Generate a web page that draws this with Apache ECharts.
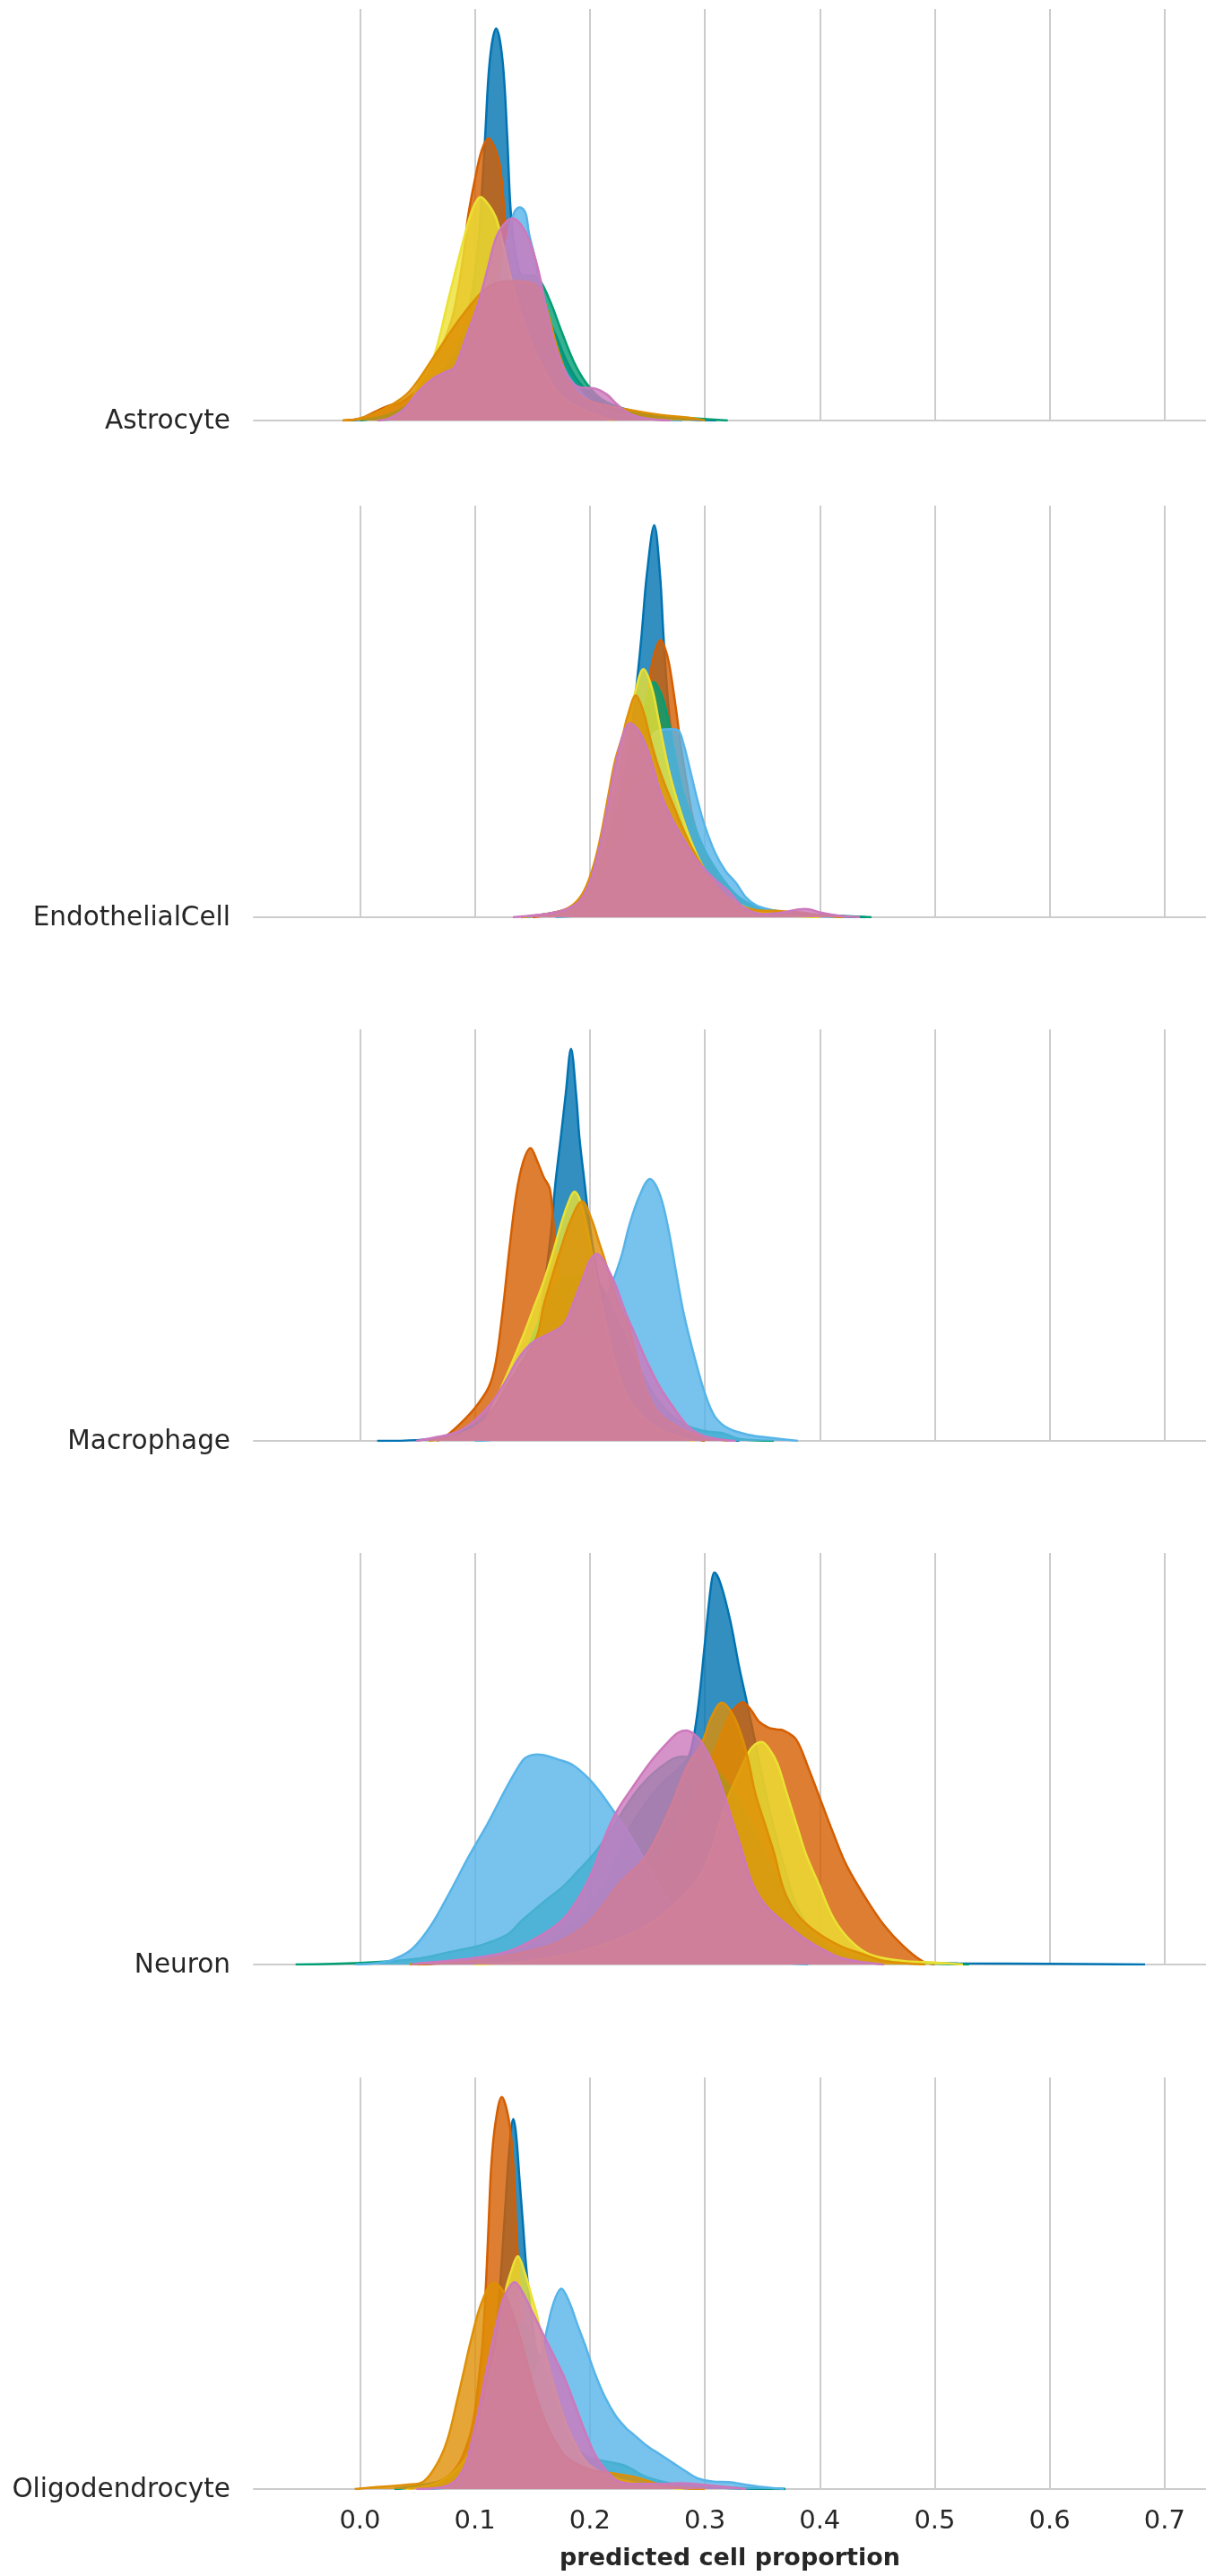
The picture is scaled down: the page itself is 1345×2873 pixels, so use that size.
<!DOCTYPE html>
<html>
<head>
<meta charset="utf-8">
<script src="https://cdn.jsdelivr.net/npm/echarts@6/dist/echarts.min.js"></script>
<style>
html,body{margin:0;padding:0;background:#fff;}
#chart{width:1345px;height:2873px;}
</style>
</head>
<body>
<div id="chart"></div>
<script>
// ---------- DATA ----------
const cellTypes = ["Astrocyte", "EndothelialCell", "Macrophage", "Neuron", "Oligodendrocyte"];
const tickValues = [0.0, 0.1, 0.2, 0.3, 0.4, 0.5, 0.6, 0.7];
// drawing order (bottom -> top)
const seriesKeys = ["blue", "vermillion", "green", "skyblue", "yellow", "gold", "pink"];
const seriesColors = ["#0173B2", "#D55E00", "#029E73", "#56B4E9", "#ECE133", "#DE8F05", "#CC78BC"];
const xLabel = "predicted cell proportion";

// kernel density estimates ([proportion, relative density])
const astrocyteBlue = [[-0.01,0],[0.0,0.002],[0.03,0.012],[0.05,0.04],[0.07,0.1],[0.085,0.19],[0.095,0.29],[0.102,0.42],[0.106,0.58],[0.109,0.73],[0.113,0.92],[0.1185,1.0],[0.124,0.92],[0.128,0.73],[0.131,0.54],[0.135,0.43],[0.14,0.37],[0.15,0.33],[0.16,0.28],[0.17,0.22],[0.18,0.15],[0.19,0.1],[0.2,0.07],[0.22,0.03],[0.25,0.012],[0.28,0.004],[0.31,0]];
const astrocyteVermillion = [[-0.015,0],[0.0,0.005],[0.015,0.025],[0.025,0.038],[0.035,0.045],[0.05,0.08],[0.065,0.15],[0.08,0.26],[0.09,0.42],[0.094,0.52],[0.1,0.615],[0.106,0.69],[0.112,0.72],[0.118,0.69],[0.122,0.645],[0.126,0.52],[0.13,0.4],[0.135,0.3],[0.14,0.25],[0.15,0.21],[0.16,0.18],[0.17,0.15],[0.18,0.11],[0.19,0.08],[0.2,0.05],[0.22,0.025],[0.25,0.01],[0.28,0]];
const astrocyteGreen = [[0.0,0],[0.03,0.02],[0.06,0.08],[0.08,0.16],[0.1,0.27],[0.12,0.34],[0.14,0.37],[0.15,0.37],[0.157,0.355],[0.166,0.3],[0.175,0.23],[0.186,0.15],[0.197,0.095],[0.21,0.055],[0.23,0.03],[0.26,0.012],[0.29,0.006],[0.32,0]];
const astrocyteYellow = [[0.02,0],[0.04,0.03],[0.052,0.1],[0.064,0.16],[0.077,0.31],[0.09,0.46],[0.098,0.54],[0.105,0.57],[0.112,0.55],[0.118,0.52],[0.122,0.48],[0.13,0.38],[0.14,0.27],[0.15,0.19],[0.16,0.13],[0.17,0.08],[0.18,0.05],[0.2,0.02],[0.22,0]];
const astrocyteGold = [[-0.015,0],[0.0,0.005],[0.025,0.036],[0.043,0.074],[0.066,0.17],[0.087,0.26],[0.107,0.33],[0.12,0.352],[0.135,0.356],[0.15,0.35],[0.157,0.33],[0.163,0.28],[0.1706,0.196],[0.178,0.13],[0.186,0.08],[0.2,0.05],[0.233,0.028],[0.26,0.015],[0.29,0.006],[0.3,0]];
const astrocyteSkyblue = [[0.02,0],[0.05,0.02],[0.07,0.05],[0.09,0.1],[0.1,0.15],[0.11,0.22],[0.12,0.33],[0.128,0.46],[0.134,0.53],[0.139,0.544],[0.144,0.53],[0.147,0.478],[0.152,0.417],[0.156,0.356],[0.162,0.28],[0.17,0.19],[0.18,0.12],[0.19,0.08],[0.2,0.05],[0.22,0.02],[0.25,0.005],[0.28,0]];
const astrocytePink = [[0.015,0],[0.025,0.005],[0.038,0.028],[0.051,0.074],[0.064,0.108],[0.074,0.123],[0.082,0.135],[0.092,0.21],[0.103,0.3],[0.111,0.386],[0.118,0.463],[0.125,0.5],[0.133,0.516],[0.14,0.5],[0.147,0.463],[0.155,0.386],[0.163,0.272],[0.171,0.18],[0.181,0.112],[0.191,0.085],[0.204,0.082],[0.215,0.066],[0.223,0.043],[0.233,0.02],[0.249,0.005],[0.27,0]];

const endothelialBlue = [[0.14,0],[0.18,0.02],[0.2,0.06],[0.21,0.12],[0.22,0.22],[0.23,0.35],[0.236,0.47],[0.242,0.63],[0.245,0.72],[0.2496,0.875],[0.256,1.0],[0.261,0.875],[0.264,0.72],[0.268,0.55],[0.273,0.42],[0.28,0.33],[0.29,0.24],[0.3,0.17],[0.31,0.12],[0.32,0.08],[0.33,0.05],[0.35,0.02],[0.4,0.005],[0.44,0]];
const endothelialVermillion = [[0.15,0],[0.18,0.02],[0.2,0.07],[0.21,0.14],[0.22,0.24],[0.235,0.38],[0.245,0.5],[0.251,0.58],[0.254,0.646],[0.258,0.69],[0.2615,0.707],[0.265,0.69],[0.269,0.646],[0.275,0.53],[0.279,0.44],[0.285,0.33],[0.29,0.25],[0.3,0.16],[0.31,0.11],[0.32,0.07],[0.34,0.03],[0.37,0.01],[0.4,0]];
const endothelialGreen = [[0.14,0],[0.19,0.03],[0.21,0.1],[0.225,0.2],[0.235,0.32],[0.243,0.45],[0.25,0.56],[0.2555,0.6],[0.262,0.57],[0.267,0.52],[0.271,0.46],[0.28,0.33],[0.29,0.24],[0.3,0.17],[0.31,0.12],[0.32,0.08],[0.33,0.05],[0.342,0.03],[0.36,0.017],[0.38,0.01],[0.41,0.005],[0.445,0]];
const endothelialYellow = [[0.14,0],[0.17,0.012],[0.185,0.03],[0.2,0.09],[0.21,0.18],[0.22,0.3],[0.228,0.4],[0.2346,0.51],[0.239,0.57],[0.2466,0.633],[0.254,0.585],[0.26,0.5],[0.263,0.455],[0.27,0.36],[0.28,0.26],[0.29,0.18],[0.3,0.12],[0.31,0.08],[0.32,0.05],[0.34,0.02],[0.37,0.005],[0.4,0]];
const endothelialGold = [[0.14,0],[0.165,0.01],[0.18,0.022],[0.19,0.045],[0.197,0.08],[0.204,0.14],[0.21,0.215],[0.216,0.31],[0.222,0.4],[0.2286,0.465],[0.2331,0.516],[0.24,0.566],[0.2466,0.524],[0.2526,0.455],[0.2585,0.394],[0.266,0.333],[0.2735,0.279],[0.281,0.2255],[0.29,0.17],[0.3,0.12],[0.31,0.08],[0.32,0.05],[0.33,0.03],[0.345,0.018],[0.365,0.016],[0.385,0.012],[0.4,0.005],[0.42,0]];
const endothelialSkyblue = [[0.17,0],[0.2,0.01],[0.22,0.04],[0.23,0.09],[0.24,0.2],[0.248,0.36],[0.254,0.46],[0.262,0.478],[0.27,0.48],[0.2765,0.478],[0.281,0.447],[0.287,0.378],[0.294,0.294],[0.3,0.233],[0.309,0.164],[0.318,0.118],[0.327,0.088],[0.336,0.05],[0.345,0.03],[0.357,0.019],[0.37,0.01],[0.39,0.004],[0.42,0]];
const endothelialPink = [[0.133,0],[0.148,0.004],[0.165,0.01],[0.178,0.019],[0.19,0.038],[0.1987,0.08],[0.2047,0.134],[0.2107,0.21],[0.2167,0.302],[0.2227,0.394],[0.2286,0.463],[0.2346,0.495],[0.242,0.478],[0.2496,0.432],[0.2555,0.378],[0.2615,0.317],[0.2705,0.256],[0.2824,0.195],[0.294,0.141],[0.309,0.0956],[0.321,0.065],[0.333,0.027],[0.351,0.008],[0.366,0.0115],[0.387,0.021],[0.402,0.0115],[0.417,0.004],[0.435,0]];

const macrophageBlue = [[0.015,0],[0.05,0.002],[0.08,0.01],[0.1,0.03],[0.12,0.08],[0.14,0.18],[0.155,0.3],[0.165,0.5],[0.17,0.656],[0.1746,0.771],[0.179,0.885],[0.1836,1.0],[0.188,0.885],[0.191,0.771],[0.1955,0.656],[0.1985,0.58],[0.205,0.45],[0.215,0.3],[0.23,0.17],[0.25,0.08],[0.27,0.04],[0.3,0.01],[0.33,0]];
const macrophageVermillion = [[0.067,0],[0.076,0.015],[0.088,0.046],[0.1,0.084],[0.112,0.137],[0.118,0.198],[0.124,0.328],[0.13,0.489],[0.1358,0.626],[0.1418,0.71],[0.1484,0.747],[0.154,0.715],[0.16,0.672],[0.165,0.645],[0.168,0.57],[0.171,0.45],[0.176,0.36],[0.185,0.28],[0.195,0.21],[0.21,0.14],[0.23,0.08],[0.25,0.04],[0.27,0.02],[0.3,0]];
const macrophageGreen = [[0.06,0],[0.1,0.04],[0.12,0.1],[0.14,0.2],[0.16,0.33],[0.18,0.42],[0.2,0.42],[0.22,0.33],[0.24,0.2],[0.26,0.1],[0.28,0.045],[0.3,0.025],[0.315,0.02],[0.33,0.005],[0.36,0]];
const macrophageYellow = [[0.06,0],[0.09,0.02],[0.11,0.06],[0.125,0.15],[0.1418,0.267],[0.1507,0.336],[0.1597,0.405],[0.1687,0.489],[0.1746,0.55],[0.1806,0.603],[0.1866,0.636],[0.192,0.61],[0.197,0.55],[0.203,0.46],[0.21,0.35],[0.22,0.22],[0.23,0.13],[0.24,0.08],[0.26,0.03],[0.29,0]];
const macrophageGold = [[0.06,0],[0.09,0.02],[0.11,0.06],[0.13,0.15],[0.145,0.22],[0.154,0.267],[0.1597,0.344],[0.1657,0.405],[0.1746,0.489],[0.1836,0.565],[0.1931,0.611],[0.2015,0.565],[0.2075,0.511],[0.2134,0.458],[0.2164,0.427],[0.225,0.35],[0.234,0.29],[0.242,0.2],[0.249,0.13],[0.26,0.07],[0.28,0.03],[0.3,0.01],[0.32,0]];
const macrophageSkyblue = [[0.1,0],[0.12,0.005],[0.15,0.03],[0.16,0.05],[0.18,0.12],[0.19,0.18],[0.2,0.25],[0.21,0.33],[0.2224,0.427],[0.2284,0.481],[0.2343,0.55],[0.2433,0.626],[0.2522,0.668],[0.2612,0.626],[0.2687,0.534],[0.2761,0.412],[0.282,0.32],[0.291,0.214],[0.3,0.122],[0.309,0.061],[0.321,0.031],[0.339,0.015],[0.357,0.008],[0.381,0]];
const macrophagePink = [[0.049,0],[0.064,0.008],[0.085,0.023],[0.1,0.053],[0.115,0.099],[0.1269,0.153],[0.1388,0.214],[0.1507,0.252],[0.1657,0.275],[0.1776,0.298],[0.1866,0.359],[0.1955,0.427],[0.2,0.46],[0.206,0.477],[0.211,0.465],[0.215,0.443],[0.2224,0.397],[0.231,0.328],[0.24,0.267],[0.249,0.206],[0.261,0.137],[0.273,0.084],[0.285,0.038],[0.297,0.015],[0.312,0.004],[0.327,0]];

const neuronBlue = [[0.05,0],[0.1,0.01],[0.15,0.03],[0.2,0.15],[0.215,0.22],[0.226,0.29],[0.237,0.36],[0.259,0.45],[0.2837,0.52],[0.289,0.56],[0.2946,0.666],[0.3,0.818],[0.3056,0.971],[0.3083,1.0],[0.3138,0.971],[0.322,0.879],[0.33,0.757],[0.3357,0.681],[0.3412,0.605],[0.35,0.48],[0.36,0.35],[0.37,0.24],[0.38,0.15],[0.4,0.06],[0.43,0.02],[0.47,0.008],[0.52,0.003],[0.6,0.002],[0.683,0]];
const neuronVermillion = [[0.05,0],[0.1,0.01],[0.15,0.04],[0.2,0.09],[0.24,0.18],[0.27,0.3],[0.29,0.42],[0.305,0.52],[0.319,0.62],[0.3248,0.65],[0.333,0.669],[0.34,0.65],[0.347,0.62],[0.355,0.605],[0.362,0.6],[0.3686,0.597],[0.3795,0.574],[0.3905,0.498],[0.4014,0.414],[0.4124,0.33],[0.4233,0.253],[0.44,0.169],[0.456,0.1],[0.4726,0.047],[0.489,0.009],[0.5,0]];
const neuronGreen = [[-0.056,0],[0.0,0.004],[0.05,0.015],[0.075,0.03],[0.1,0.045],[0.111,0.055],[0.12,0.065],[0.13,0.08],[0.14,0.11],[0.16,0.16],[0.177,0.2],[0.19,0.24],[0.204,0.284],[0.22,0.35],[0.24,0.44],[0.26,0.5],[0.28,0.53],[0.3,0.52],[0.32,0.46],[0.34,0.36],[0.36,0.24],[0.38,0.13],[0.4,0.06],[0.42,0.03],[0.45,0.012],[0.49,0.004],[0.53,0]];
const neuronYellow = [[0.1,0],[0.15,0.01],[0.2,0.04],[0.25,0.1],[0.28,0.17],[0.3,0.25],[0.3193,0.42],[0.3275,0.475],[0.3384,0.543],[0.344,0.562],[0.3494,0.568],[0.356,0.55],[0.3631,0.513],[0.3713,0.437],[0.3795,0.36],[0.3877,0.284],[0.3987,0.208],[0.4124,0.116],[0.4288,0.055],[0.445,0.024],[0.4726,0.009],[0.5,0.005],[0.5246,0]];
const neuronGold = [[0.043,0],[0.1,0.01],[0.144,0.032],[0.171,0.055],[0.199,0.108],[0.226,0.208],[0.2487,0.276],[0.27,0.4],[0.2837,0.5],[0.2974,0.565],[0.3056,0.63],[0.3149,0.668],[0.3248,0.635],[0.333,0.574],[0.3384,0.513],[0.3439,0.437],[0.3521,0.36],[0.3603,0.284],[0.3686,0.192],[0.3795,0.131],[0.396,0.085],[0.4179,0.047],[0.44,0.024],[0.456,0.009],[0.4918,0]];
const neuronSkyblue = [[-0.004,0],[0.0126,0.003],[0.029,0.013],[0.0455,0.04],[0.0619,0.1],[0.0783,0.185],[0.0947,0.276],[0.1112,0.36],[0.1276,0.452],[0.1413,0.52],[0.147,0.532],[0.1539,0.536],[0.16,0.534],[0.1714,0.524],[0.1851,0.509],[0.1988,0.475],[0.2097,0.437],[0.2207,0.391],[0.2316,0.345],[0.2426,0.292],[0.259,0.208],[0.2755,0.131],[0.2974,0.055],[0.319,0.024],[0.3467,0.009],[0.39,0]];
const neuronPink = [[0.0455,0],[0.051,0.003],[0.0893,0.013],[0.1276,0.032],[0.155,0.07],[0.1769,0.116],[0.1933,0.185],[0.2043,0.253],[0.2125,0.322],[0.2234,0.391],[0.2371,0.452],[0.2536,0.52],[0.27,0.574],[0.277,0.592],[0.2837,0.597],[0.291,0.587],[0.2974,0.566],[0.3083,0.505],[0.3165,0.437],[0.3248,0.36],[0.333,0.284],[0.3412,0.208],[0.3521,0.154],[0.3686,0.108],[0.385,0.07],[0.4014,0.04],[0.4179,0.017],[0.44,0.005],[0.456,0]];

const oligoBlue = [[0.03,0],[0.07,0.02],[0.09,0.05],[0.1,0.09],[0.11,0.2],[0.12,0.45],[0.126,0.7],[0.13,0.87],[0.1334,0.944],[0.1358,0.905],[0.1388,0.79],[0.1418,0.676],[0.1448,0.561],[0.15,0.42],[0.155,0.32],[0.16,0.25],[0.17,0.17],[0.18,0.12],[0.2,0.07],[0.22,0.04],[0.25,0.02],[0.3,0.005],[0.37,0]];
const oligoVermillion = [[0.04,0],[0.07,0.02],[0.085,0.06],[0.095,0.13],[0.1,0.2],[0.104,0.3],[0.1066,0.37],[0.1096,0.523],[0.1119,0.676],[0.1143,0.828],[0.1179,0.935],[0.1233,1.0],[0.1299,0.935],[0.1334,0.828],[0.1358,0.676],[0.1388,0.523],[0.142,0.38],[0.147,0.27],[0.155,0.2],[0.165,0.14],[0.18,0.08],[0.2,0.04],[0.22,0.02],[0.25,0.008],[0.3,0]];
const oligoGreen = [[0.03,0],[0.07,0.02],[0.09,0.07],[0.1,0.13],[0.11,0.22],[0.12,0.32],[0.13,0.4],[0.14,0.42],[0.15,0.38],[0.16,0.3],[0.17,0.22],[0.18,0.15],[0.19,0.1],[0.2,0.08],[0.215,0.07],[0.23,0.06],[0.25,0.03],[0.28,0.01],[0.32,0.004],[0.37,0]];
const oligoYellow = [[0.04,0],[0.07,0.02],[0.09,0.07],[0.1,0.13],[0.11,0.24],[0.12,0.38],[0.1269,0.508],[0.1313,0.553],[0.1373,0.594],[0.1433,0.553],[0.1493,0.492],[0.1537,0.447],[0.16,0.36],[0.17,0.25],[0.18,0.16],[0.19,0.1],[0.2,0.06],[0.22,0.03],[0.25,0.01],[0.28,0]];
const oligoGold = [[-0.0045,0],[0.0104,0.004],[0.0403,0.011],[0.0552,0.019],[0.0672,0.065],[0.0761,0.126],[0.0851,0.233],[0.091,0.309],[0.097,0.385],[0.106,0.477],[0.1164,0.527],[0.1239,0.508],[0.1299,0.47],[0.14,0.38],[0.15,0.27],[0.16,0.18],[0.17,0.12],[0.18,0.08],[0.2,0.05],[0.22,0.04],[0.24,0.03],[0.26,0.012],[0.28,0.004],[0.3,0]];
const oligoSkyblue = [[0.06,0],[0.09,0.01],[0.11,0.04],[0.13,0.12],[0.145,0.24],[0.1582,0.347],[0.1627,0.408],[0.1687,0.477],[0.1752,0.511],[0.1821,0.477],[0.1896,0.416],[0.1955,0.37],[0.2045,0.294],[0.2134,0.233],[0.2224,0.187],[0.2313,0.156],[0.2373,0.141],[0.2493,0.111],[0.2612,0.088],[0.2731,0.065],[0.285,0.042],[0.294,0.027],[0.3075,0.019],[0.3209,0.018],[0.3358,0.011],[0.3507,0.005],[0.363,0.0015],[0.369,0]];
const oligoPink = [[0.049,0],[0.07,0.004],[0.082,0.019],[0.091,0.057],[0.097,0.118],[0.103,0.195],[0.109,0.286],[0.1149,0.37],[0.1209,0.447],[0.1269,0.5],[0.1346,0.528],[0.1418,0.5],[0.1507,0.447],[0.1597,0.393],[0.1687,0.34],[0.1776,0.286],[0.1866,0.218],[0.1955,0.149],[0.2045,0.088],[0.2134,0.05],[0.2254,0.019],[0.2433,0.013],[0.26,0.013],[0.279,0.015],[0.295,0.012],[0.309,0.008],[0.336,0]];

// per panel, in drawing order of seriesKeys
const panelData = [
  [astrocyteBlue, astrocyteVermillion, astrocyteGreen, astrocyteSkyblue, astrocyteYellow, astrocyteGold, astrocytePink],
  [endothelialBlue, endothelialVermillion, endothelialGreen, endothelialSkyblue, endothelialYellow, endothelialGold, endothelialPink],
  [macrophageBlue, macrophageVermillion, macrophageGreen, macrophageSkyblue, macrophageYellow, macrophageGold, macrophagePink],
  [neuronBlue, neuronVermillion, neuronGreen, neuronSkyblue, neuronYellow, neuronGold, neuronPink],
  [oligoBlue, oligoVermillion, oligoGreen, oligoSkyblue, oligoYellow, oligoGold, oligoPink]
];

// ---------- LAYOUT ----------
const panelTops = [10, 564, 1148, 1732, 2317];
const panelHeight = 459;
const gridLeft = 283;
const xMin = -0.0924, xMax = 0.736;
const FONT = '"DejaVu Sans", "Liberation Sans", sans-serif';
const TEXT = '#262626';
const GRID = '#cccccc';

const chart = echarts.init(document.getElementById('chart'), null, {renderer: 'canvas'});

const grids = [], xAxes = [], yAxes = [], series = [], graphics = [];
cellTypes.forEach((name, i) => {
  const isLast = i === cellTypes.length - 1;
  grids.push({left: gridLeft, right: 0, top: panelTops[i], height: panelHeight, containLabel: false});
  xAxes.push({
    type: 'value', gridIndex: i, min: xMin, max: xMax,
    axisLine: {show: true, onZero: true, lineStyle: {color: GRID, width: 2}},
    axisTick: {show: false, customValues: tickValues},
    splitLine: {show: true, lineStyle: {color: GRID, width: 2}},
    axisLabel: {
      show: isLast, customValues: tickValues,
      formatter: v => v.toFixed(1),
      fontSize: 29, color: TEXT, fontFamily: FONT, margin: 22
    },
    name: isLast ? xLabel : '',
    nameLocation: 'middle', nameGap: 64,
    nameTextStyle: {fontSize: 27, fontWeight: 'bold', color: TEXT, fontFamily: FONT}
  });
  let peak = 0;
  panelData[i].forEach(arr => arr.forEach(p => { if (p[1] > peak) peak = p[1]; }));
  yAxes.push({
    type: 'value', gridIndex: i, min: 0, max: peak * 1.05,
    show: false, splitLine: {show: false}
  });
  panelData[i].forEach((arr, k) => {
    series.push({
      name: seriesKeys[k], type: 'line', xAxisIndex: i, yAxisIndex: i,
      data: arr, smooth: 0.35, showSymbol: false, symbol: 'none',
      lineStyle: {color: seriesColors[k], width: 2.5},
      itemStyle: {color: seriesColors[k]},
      areaStyle: {color: seriesColors[k], opacity: 0.8},
      z: 2 + k, silent: true
    });
  });
  graphics.push({
    type: 'text', x: 257, y: panelTops[i] + panelHeight + 1,
    style: {text: name, align: 'right', verticalAlign: 'middle',
            font: '29.5px ' + FONT, fill: TEXT}
  });
});

chart.setOption({
  animation: false,
  backgroundColor: '#ffffff',
  grid: grids, xAxis: xAxes, yAxis: yAxes, series: series, graphic: graphics
});
</script>
</body>
</html>
